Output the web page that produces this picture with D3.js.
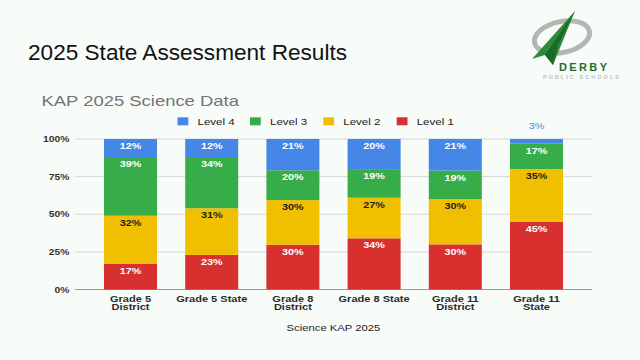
<!DOCTYPE html>
<html>
<head>
<meta charset="utf-8">
<script src="https://cdn.jsdelivr.net/npm/d3@7"></script>
<style>
  html, body { margin: 0; padding: 0; background: #f8fcf9; }
  svg { display: block; }
  text { font-family: "Liberation Sans", Arial, sans-serif; }
</style>
</head>
<body>
<svg id="chart" width="640" height="360"></svg>
<script>
// ---- data ----
const categories = ["Grade 5 District", "Grade 5 State", "Grade 8 District", "Grade 8 State", "Grade 11 District", "Grade 11 State"];
const categoryLines = [["Grade 5", "District"], ["Grade 5 State"], ["Grade 8", "District"], ["Grade 8 State"], ["Grade 11", "District"], ["Grade 11", "State"]];
const level1 = [17, 23, 30, 34, 30, 45];
const level2 = [32, 31, 30, 27, 30, 35];
const level3 = [39, 34, 20, 19, 19, 17];
const level4 = [12, 12, 21, 20, 21, 3];
const seriesNames = ["Level 1", "Level 2", "Level 3", "Level 4"];
const legendOrder = ["Level 4", "Level 3", "Level 2", "Level 1"];
const yTicks = [0, 0.25, 0.5, 0.75, 1];
const yTickLabels = ["0%", "25%", "50%", "75%", "100%"];

const colors = {"Level 1": "#d8302f", "Level 2": "#f0c000", "Level 3": "#37ad4a", "Level 4": "#4586e6"};
const labelColors = {"Level 1": "#ffffff", "Level 2": "#222222", "Level 3": "#ffffff", "Level 4": "#ffffff"};

const rows = categories.map((c, i) => ({cat: c, "Level 1": level1[i], "Level 2": level2[i], "Level 3": level3[i], "Level 4": level4[i]}));

const svg = d3.select("#chart");
const SX = 1.2; // horizontal stretch of chart texts

function stretchedText(g, x, y, str) {
  return g.append("text").attr("transform", `translate(${x},${y}) scale(${SX},1)`).text(str);
}

// ---- slide title ----
svg.append("text").attr("x", 28).attr("y", 59.5)
  .attr("font-size", 22.6).attr("fill", "#111").text("2025 State Assessment Results");

// ---- logo ----
const logo = svg.append("g");
logo.append("ellipse").attr("cx", 562).attr("cy", 37).attr("rx", 28).attr("ry", 15.5)
  .attr("transform", "rotate(-12,562,37)")
  .attr("fill", "none").attr("stroke", "#b4b6b4").attr("stroke-width", 5);
logo.append("path").attr("d", "M575,11 L532,59 L545,55 L553,65 Z").attr("fill", "#2f8a3a");
logo.append("path").attr("d", "M575,11 L545,55 L553,65 L558,45 Z").attr("fill", "#1b6a28");
logo.append("text").attr("x", 559).attr("y", 70.5).attr("font-size", 11).attr("font-weight", "bold")
  .attr("fill", "#1f6e2c").attr("textLength", 48).text("DERBY");
logo.append("text").attr("x", 543).attr("y", 79).attr("font-size", 5.5).attr("font-weight", "bold")
  .attr("fill", "#b8bcb8").attr("textLength", 76).text("PUBLIC SCHOOLS");

// ---- chart title ----
svg.append("text").attr("transform", "translate(41.5,105.7) scale(1.23,1)")
  .attr("font-size", 15).attr("fill", "#737373").text("KAP 2025 Science Data");

// ---- scales ----
const x = d3.scaleBand().domain(categories).range([75, 592]).paddingInner(0.347).paddingOuter(0.357);
const y = d3.scaleLinear().domain([0, 1]).range([289.5, 139]);

// gridlines
svg.append("g").selectAll("line").data(yTicks).join("line")
  .attr("x1", 75).attr("x2", 592)
  .attr("y1", d => y(d)).attr("y2", d => y(d))
  .attr("stroke", d => d === 0 ? "#9a9a9a" : "#d6d6d6").attr("stroke-width", 1);

// y tick labels
const yl = svg.append("g").attr("font-size", 8.6).attr("font-weight", "bold").attr("fill", "#333").attr("text-anchor", "end");
yTicks.forEach((t, i) => {
  stretchedText(yl, 69.3, y(t), yTickLabels[i]).attr("dy", "0.35em");
});

// ---- stacked bars ----
const stack = d3.stack().keys(seriesNames).offset(d3.stackOffsetExpand);
const series = stack(rows);

const barG = svg.append("g");
series.forEach(s => {
  barG.append("g").attr("fill", colors[s.key]).selectAll("rect").data(s).join("rect")
    .attr("x", d => x(d.data.cat))
    .attr("width", x.bandwidth())
    .attr("y", d => y(d[1]))
    .attr("height", d => y(d[0]) - y(d[1]));
});

// value labels
const lblG = svg.append("g").attr("font-size", 9).attr("font-weight", "bold").attr("text-anchor", "middle");
series.forEach(s => {
  s.forEach(d => {
    const cx = x(d.data.cat) + x.bandwidth() / 2;
    const h = y(d[0]) - y(d[1]);
    const v = d.data[s.key];
    if (h >= 12) {
      stretchedText(lblG, cx, y(d[1]) + 7, v + "%").attr("dy", "0.35em").attr("fill", labelColors[s.key]);
    } else {
      stretchedText(lblG, cx, y(d[1]) - 13.5, v + "%").attr("dy", "0.35em")
        .attr("fill", colors[s.key]).attr("font-weight", "normal");
    }
  });
});

// x labels
const xl = svg.append("g").attr("font-size", 9.2).attr("font-weight", "bold").attr("fill", "#2a2a2a").attr("text-anchor", "middle");
categories.forEach((c, i) => {
  const cx = x(c) + x.bandwidth() / 2;
  categoryLines[i].forEach((line, j) => {
    stretchedText(xl, cx, 298.3 + j * 8.6, line).attr("dy", "0.35em");
  });
});

// axis title
stretchedText(svg, 333.5, 328, "Science KAP 2025").attr("dy", "0.35em")
  .attr("font-size", 9.4).attr("fill", "#222").attr("text-anchor", "middle");

// ---- legend ----
const legendX = [177.5, 250, 323.3, 396.7];
const lg = svg.append("g");
legendOrder.forEach((name, i) => {
  lg.append("rect").attr("x", legendX[i]).attr("y", 117.3).attr("width", 10.8).attr("height", 8)
    .attr("fill", colors[name]);
  stretchedText(lg, legendX[i] + 20, 121.3, name).attr("dy", "0.35em")
    .attr("font-size", 9.6).attr("fill", "#222");
});
</script>
</body>
</html>
